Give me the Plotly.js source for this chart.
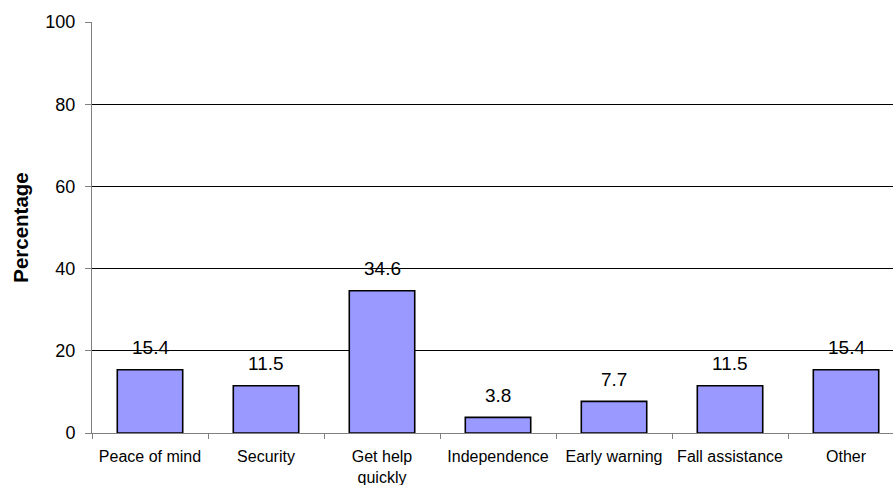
<!DOCTYPE html>
<html>
<head>
<meta charset="utf-8">
<script src="https://cdn.plot.ly/plotly-3.0.1.min.js"></script>
<style>
  html, body { margin: 0; padding: 0; background: #ffffff; }
  #chart { width: 893px; height: 485px; }
</style>
</head>
<body>
<div id="chart"></div>
<script>
// Reasons given for using the alarm service (% of respondents)
const categories = ["Peace of mind", "Security", "Get help<br>quickly", "Independence", "Early warning", "Fall assistance", "Other"];
const percentages = [15.4, 11.5, 34.6, 3.8, 7.7, 11.5, 15.4];
const yTicks = [0, 20, 40, 60, 80, 100];

const font = "Liberation Sans, Arial, sans-serif";

const trace = {
  type: "bar",
  x: categories,
  y: percentages,
  marker: { color: "#9999FF", line: { color: "#000000", width: 1.6 } },
  hoverinfo: "x+y"
};

// value labels above each bar
const labels = categories.map((c, i) => ({
  x: c,
  y: percentages[i],
  text: percentages[i].toFixed(1),
  showarrow: false,
  yanchor: "middle",
  yshift: 22,
  font: { family: font, size: 19, color: "#000000" }
}));

const layout = {
  width: 893,
  height: 485,
  margin: { l: 92, r: 0, t: 22, b: 52 },
  paper_bgcolor: "#ffffff",
  plot_bgcolor: "#ffffff",
  showlegend: false,
  bargap: 0.436,
  xaxis: {
    type: "category",
    range: [-0.5, 6.405],
    showline: true,
    linecolor: "#808080",
    linewidth: 1,
    ticks: "outside",
    tickson: "boundaries",
    ticklen: 5,
    tickcolor: "#808080",
    showgrid: false,
    ticklabelstandoff: 9,
    tickfont: { family: font, size: 16, color: "#000000" },
    fixedrange: true
  },
  yaxis: {
    range: [0, 100],
    tickvals: yTicks,
    ticktext: yTicks.map(String),
    showline: true,
    linecolor: "#808080",
    linewidth: 1,
    ticks: "outside",
    ticklen: 6,
    tickcolor: "#808080",
    showgrid: true,
    gridcolor: "#000000",
    gridwidth: 1,
    zeroline: false,
    ticklabelstandoff: 6,
    tickfont: { family: font, size: 18, color: "#000000" },
    title: { text: "<b>Percentage</b>", font: { family: font, size: 20.5, color: "#000000" }, standoff: 11 },
    fixedrange: true
  },
  annotations: labels
};

Plotly.newPlot("chart", [trace], layout, { displayModeBar: false, staticPlot: true });
</script>
</body>
</html>
